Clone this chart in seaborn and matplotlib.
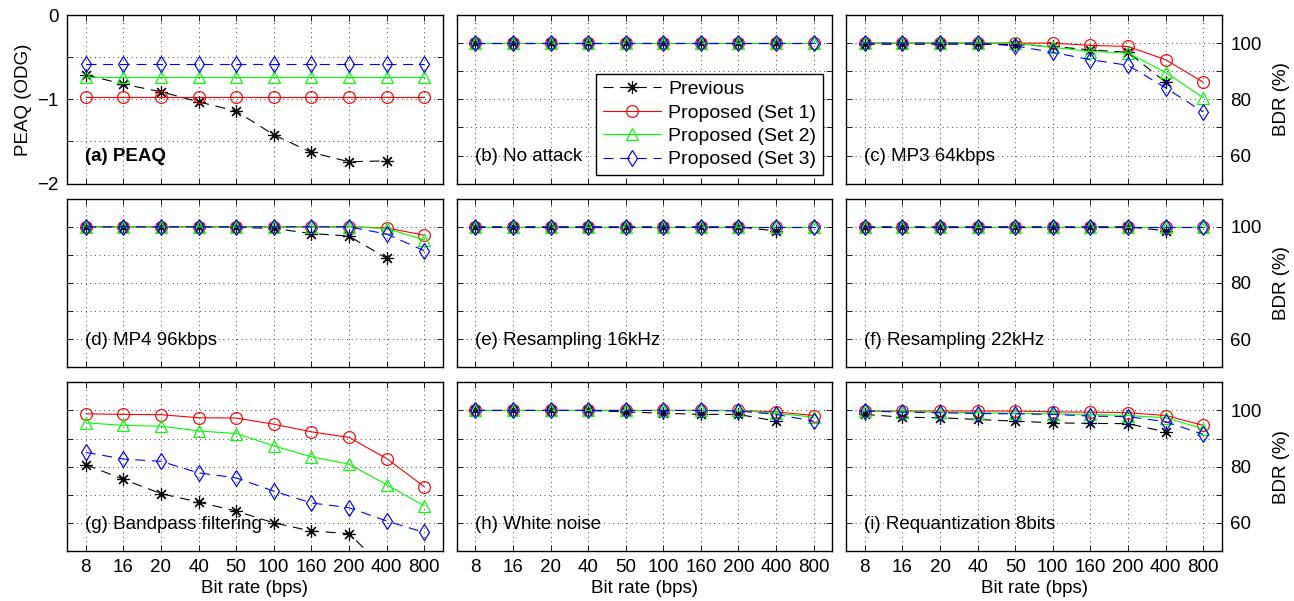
import numpy as np
import seaborn as sns
import matplotlib.pyplot as plt

bit_rates = ["8", "16", "20", "40", "50", "100", "160", "200", "400", "800"]
series_names = ["Previous", "Proposed (Set 1)", "Proposed (Set 2)", "Proposed (Set 3)"]

# each panel: [previous, set 1, set 2, set 3]; "previous" has no 800 bps point
peaq = [
    [-0.71, -0.82, -0.91, -1.03, -1.14, -1.42, -1.63, -1.74, -1.73],
    [-0.97, -0.97, -0.97, -0.97, -0.97, -0.97, -0.97, -0.97, -0.97, -0.97],
    [-0.74, -0.74, -0.74, -0.74, -0.74, -0.74, -0.74, -0.74, -0.74, -0.74],
    [-0.58, -0.58, -0.58, -0.58, -0.58, -0.58, -0.58, -0.58, -0.58, -0.58],
]
no_attack = [
    [100, 100, 100, 100, 100, 100, 100, 100, 100],
    [100, 100, 100, 100, 100, 100, 100, 100, 100, 100],
    [100, 100, 100, 100, 100, 100, 100, 100, 100, 100],
    [100, 100, 100, 100, 100, 100, 100, 100, 100, 100],
]
mp3_64 = [
    [99.6, 99.6, 99.6, 99.6, 99.5, 98.8, 97.6, 96.7, 86.1],
    [100, 100, 100, 100, 100, 100, 99.2, 98.8, 94.1, 86.1],
    [100, 100, 100, 100, 100, 98.5, 97.0, 96.5, 89.6, 80.6],
    [100, 100, 100, 100, 99.0, 96.7, 94.1, 92.1, 84.1, 75.5],
]
mp4_96 = [
    [100, 100, 100, 100, 99.8, 99.4, 97.6, 96.7, 88.8],
    [100, 100, 100, 100, 100, 100, 100, 100, 99.6, 97.0],
    [100, 100, 100, 100, 100, 100, 100, 100, 99.4, 95.3],
    [100, 100, 100, 100, 100, 100, 100, 100, 97.4, 91.5],
]
resample_16 = [
    [100, 100, 100, 100, 100, 100, 100, 100, 98.5],
    [100, 100, 100, 100, 100, 100, 100, 100, 100, 100],
    [100, 100, 100, 100, 100, 100, 100, 100, 100, 100],
    [100, 100, 100, 100, 100, 100, 100, 100, 100, 100],
]
resample_22 = [
    [100, 100, 100, 100, 100, 100, 100, 100, 98.6],
    [100, 100, 100, 100, 100, 100, 100, 100, 100, 100],
    [100, 100, 100, 100, 100, 100, 100, 100, 100, 100],
    [100, 100, 100, 100, 100, 100, 100, 100, 100, 100],
]
bandpass = [
    [80.7, 75.5, 70.4, 67.4, 64.2, 60.0, 57.1, 56.2, 43.0],
    [98.8, 98.6, 98.5, 97.4, 97.3, 95.1, 92.4, 90.4, 82.9, 72.9],
    [95.6, 94.7, 94.4, 92.7, 91.8, 87.4, 83.5, 80.9, 73.6, 66.1],
    [85.1, 82.7, 81.9, 77.8, 76.0, 71.3, 67.1, 65.4, 60.7, 56.6],
]
white_noise = [
    [100, 100, 100, 100, 99.5, 99.0, 98.6, 98.6, 96.2],
    [100, 100, 100, 100, 100, 100, 100, 100, 99.5, 98.2],
    [100, 100, 100, 100, 100, 100, 100, 100, 99.0, 97.6],
    [100, 100, 100, 100, 100, 100, 100, 99.8, 98.6, 96.2],
]
requant_8 = [
    [98.6, 97.6, 97.4, 96.8, 96.2, 95.6, 95.4, 95.3, 92.4],
    [99.8, 99.8, 99.8, 99.8, 99.8, 99.5, 99.4, 99.2, 98.2, 94.7],
    [99.8, 99.6, 99.4, 99.2, 99.0, 98.8, 98.6, 98.2, 97.4, 93.5],
    [99.8, 99.4, 99.2, 98.9, 98.8, 98.6, 98.0, 97.8, 96.0, 91.5],
]

panels = [peaq, no_attack, mp3_64, mp4_96, resample_16, resample_22,
          bandpass, white_noise, requant_8]
panel_titles = ["(a) PEAQ", "(b) No attack", "(c) MP3 64kbps", "(d) MP4 96kbps",
                "(e) Resampling 16kHz", "(f) Resampling 22kHz",
                "(g) Bandpass filtering", "(h) White noise", "(i) Requantization 8bits"]

styles = [
    dict(color="black", marker=(8, 2, 0), linestyle=(0, (9, 6)), ms=9),
    dict(color="#ff0000", marker="o", linestyle="-", ms=8.5),
    dict(color="#00ff00", marker="^", linestyle="-", ms=9),
    dict(color="#0000ff", marker="d", linestyle=(0, (9, 6)), ms=8.5),
]

sns.set_style("ticks")
plt.rcParams["font.family"] = ["Liberation Sans", "DejaVu Sans"]
plt.rcParams["font.size"] = 13.5
for key in ["text.color", "axes.labelcolor", "xtick.color", "ytick.color", "axes.edgecolor"]:
    plt.rcParams[key] = "black"
fs = 13.5

fig, axes = plt.subplots(3, 3, figsize=(12.94, 6.01), dpi=100)
fig.subplots_adjust(left=67 / 1294, right=1222 / 1294, top=1 - 15 / 601,
                    bottom=1 - 551 / 601, wspace=0.036, hspace=0.089)

for k, ax in enumerate(axes.flat):
    row, col = divmod(k, 3)
    for vals, st, name in zip(panels[k], styles, series_names):
        st = dict(st)
        c = st.pop("color")
        sns.lineplot(x=np.arange(len(vals)), y=vals, ax=ax, color=c, lw=0.8,
                     mfc="none", mec=c, mew=0.85, label=name, legend=False,
                     clip_on=True, **st)
    ax.set_xlim(-0.5, 9.5)
    ax.set_xticks(np.arange(len(bit_rates)))
    if k == 0:
        ax.set_ylim(-2, 0)
        ax.set_yticks([-2, -1.5, -1, -0.5, 0])
        ax.set_yticklabels(["\u22122", "", "\u22121", "", "0"])
        ax.set_ylabel("PEAQ (ODG)", fontsize=fs)
    else:
        ax.set_ylim(50, 110)
        ax.set_yticks([60, 70, 80, 90, 100])
        ax.set_yticklabels(["60", "", "80", "", "100"])
        ax.set_ylabel("")
    ax.grid(True, color="black", linestyle=(0, (1, 4.5)), lw=0.6)
    ax.tick_params(direction="in", top=True, right=True, length=4, width=0.6,
                   labelsize=fs, pad=6)
    if col == 1 or (col == 0 and row > 0):
        ax.tick_params(labelleft=False)
    if col == 2:
        ax.tick_params(labelleft=False, labelright=True)
        ax.yaxis.set_label_position("right")
        ax.set_ylabel("BDR (%)", labelpad=8, fontsize=fs)
    if row == 2:
        ax.set_xticklabels(bit_rates)
        ax.set_xlabel("Bit rate (bps)", labelpad=3, fontsize=fs)
    else:
        ax.tick_params(labelbottom=False)
        ax.set_xlabel("")
    for sp in ax.spines.values():
        sp.set_visible(True)
        sp.set_color("black")
        sp.set_linewidth(1.0)
    ax.text(-0.02, 0.16, panel_titles[k], transform=ax.get_xaxis_transform(),
            ha="left", va="center", fontsize=fs,
            fontweight="bold" if k == 0 else "normal")

leg = axes[0, 1].legend(loc="lower right", bbox_to_anchor=(0.975, 0.05),
                        borderaxespad=0, fancybox=False, edgecolor="black",
                        framealpha=1, fontsize=14, handlelength=3.0,
                        handletextpad=0.35, labelspacing=0.3, borderpad=0.35)
leg.get_frame().set_linewidth(1.0)

fig.savefig("out.png", dpi=100)
